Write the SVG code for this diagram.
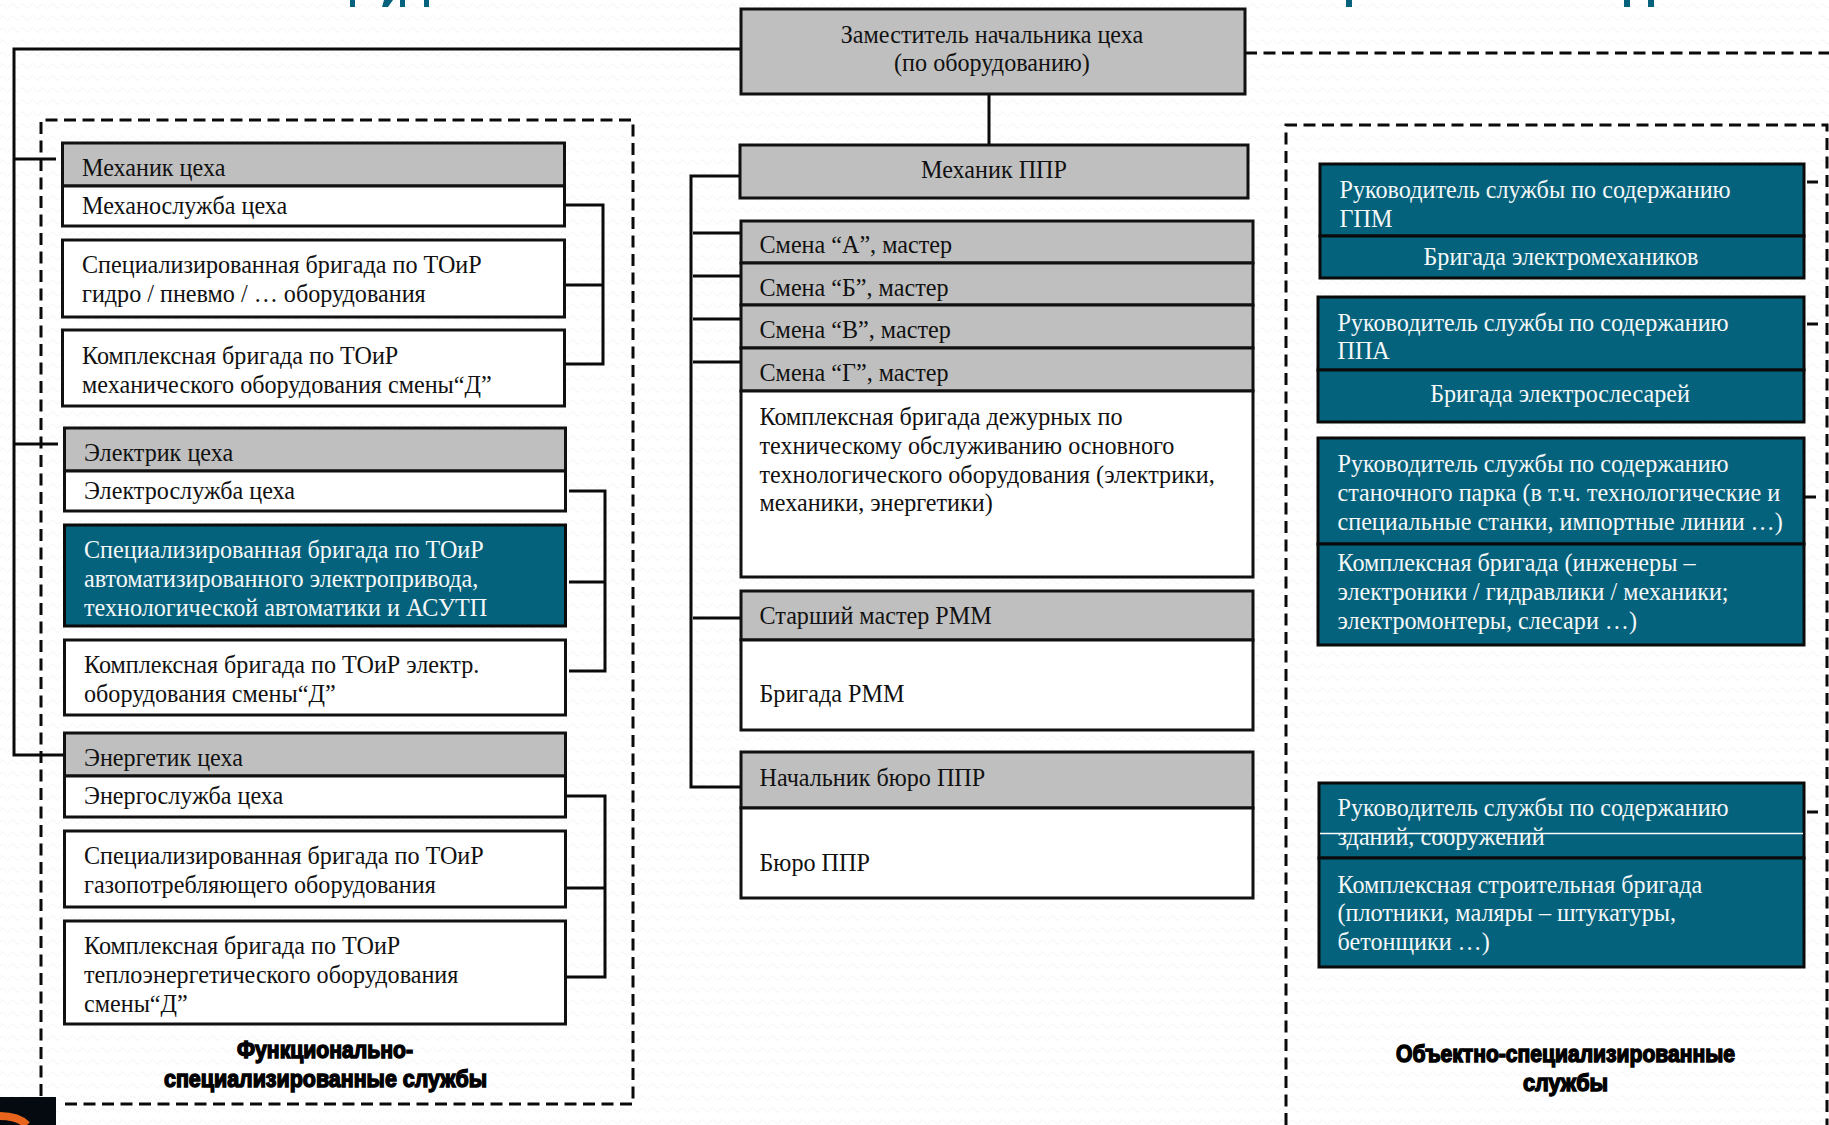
<svg xmlns="http://www.w3.org/2000/svg" width="1829" height="1125" viewBox="0 0 1829 1125">
<defs>
<pattern id="wave" width="10" height="12" patternUnits="userSpaceOnUse"><path d="M0 6 L2.5 3.5 L5 6 L7.5 8.5 L10 6" fill="none" stroke="#f1f3f4" stroke-width="1"/></pattern>
</defs>
<style>
.g{fill:#bfbfbf;stroke:#111;stroke-width:3}
.w{fill:#fff;stroke:#111;stroke-width:3}
.t{fill:#05627c;stroke:#0a0a0a;stroke-width:3}
.c{fill:none;stroke:#0a0a0a;stroke-width:3}
.d{fill:none;stroke:#0a0a0a;stroke-width:3;stroke-dasharray:12 6.5}
text{font-family:"Liberation Serif","Times New Roman",serif;font-size:24.15px;fill:#111;transform:translateY(.6px)}
.l{fill:#f4f8f9}
.m{text-anchor:middle}
.b{font-family:"Liberation Sans Narrow","Liberation Sans",sans-serif;font-weight:700;fill:#000;stroke:#000;stroke-width:1.5}
</style>
<rect width="1829" height="1125" fill="#fff"/>
<rect width="1829" height="1125" fill="url(#wave)"/>
<g id="title-fragments" fill="#05627c">
<rect x="350" y="0" width="5" height="7"/><path d="M384 0h9l-5 7h-6z"/><rect x="400" y="0" width="5" height="7"/><rect x="424" y="0" width="5" height="7"/>
<rect x="1346" y="0" width="6" height="7"/><rect x="1624" y="0" width="6" height="7"/><rect x="1648" y="0" width="6" height="7"/>
</g>
<g id="connectors">
<path class="c" d="M741 49H14V755H64M14 159H56M14 444H58"/>
<path class="c" d="M989 94V144"/>
<path class="c" d="M739 176H691V787H740M693 233H740M693 276H740M693 319H740M693 362H740M693 618H740"/>
<path class="c" d="M566 205H603V364H566M566 285H603"/>
<path class="c" d="M569 491H605V671H569M569 582H605"/>
<path class="c" d="M566 796H605V977H566M566 888H605"/>
<path class="d" d="M1245 53H1829"/>
<path class="c" d="M1807 182H1818M1807 324H1818M1805 497H1816M1807 812H1818"/>
<path class="d" d="M65 1104H633V120H41V1097"/>
<path class="d" d="M1286 1125V125H1827V1125"/>
</g>
<g id="zam"><rect class="g" x="741" y="9" width="504" height="85"/><text class="m" x="992" y="42">Заместитель начальника цеха</text><text class="m" x="992" y="70">(по оборудованию)</text></g>

<g id="mech-head"><rect class="g" x="62.500" y="143" width="502" height="43"/><text x="82" y="175">Механик цеха</text></g>
<g id="mech-service"><rect class="w" x="62.500" y="186" width="502" height="40"/><text x="82" y="213">Механослужба цеха</text></g>
<g id="mech-spec"><rect class="w" x="62.500" y="240" width="502" height="77"/><text x="82" y="272">Специализированная бригада по ТОиР</text><text x="82" y="301">гидро / пневмо / … оборудования</text></g>
<g id="mech-complex"><rect class="w" x="62.500" y="330" width="502" height="76"/><text x="82" y="363">Комплексная бригада по ТОиР</text><text x="82" y="392">механического оборудования смены“Д”</text></g>

<g id="el-head"><rect class="g" x="64.500" y="428" width="501" height="43"/><text x="84" y="460">Электрик цеха</text></g>
<g id="el-service"><rect class="w" x="64.500" y="471" width="501" height="40"/><text x="84" y="498">Электрослужба цеха</text></g>
<g id="el-spec"><rect class="t" x="64.500" y="525" width="501" height="101"/><text class="l" x="84" y="557">Специализированная бригада по ТОиР</text><text class="l" x="84" y="586">автоматизированного электропривода,</text><text class="l" x="84" y="615">технологической автоматики и АСУТП</text></g>
<g id="el-complex"><rect class="w" x="64.500" y="640" width="501" height="75"/><text x="84" y="672">Комплексная бригада по ТОиР электр.</text><text x="84" y="701">оборудования смены“Д”</text></g>

<g id="en-head"><rect class="g" x="64.500" y="733" width="501" height="43"/><text x="84" y="765">Энергетик цеха</text></g>
<g id="en-service"><rect class="w" x="64.500" y="776" width="501" height="41"/><text x="84" y="803">Энергослужба цеха</text></g>
<g id="en-spec"><rect class="w" x="64.500" y="831" width="501" height="76"/><text x="84" y="863">Специализированная бригада по ТОиР</text><text x="84" y="892">газопотребляющего оборудования</text></g>
<g id="en-complex"><rect class="w" x="64.500" y="921" width="501" height="103"/><text x="84" y="953">Комплексная бригада по ТОиР</text><text x="84" y="982">теплоэнергетического оборудования</text><text x="84" y="1011">смены“Д”</text></g>

<g id="mech-ppr"><rect class="g" x="740" y="145" width="508" height="53"/><text class="m" x="994" y="177">Механик ППР</text></g>
<g id="shift-a"><rect class="g" x="741" y="221" width="512" height="42"/><text x="759.500" y="252">Смена “А”, мастер</text></g>
<g id="shift-b"><rect class="g" x="741" y="263" width="512" height="42"/><text x="759.500" y="295">Смена “Б”, мастер</text></g>
<g id="shift-v"><rect class="g" x="741" y="305" width="512" height="43"/><text x="759.500" y="337">Смена “В”, мастер</text></g>
<g id="shift-g"><rect class="g" x="741" y="348" width="512" height="43"/><text x="759.500" y="380">Смена “Г”, мастер</text></g>
<g id="duty"><rect class="w" x="741" y="391" width="512" height="186"/><text x="759.500" y="424">Комплексная бригада дежурных по</text><text x="759.500" y="453">техническому обслуживанию основного</text><text x="759.500" y="482">технологического оборудования (электрики,</text><text x="759.500" y="510">механики, энергетики)</text></g>
<g id="rmm-head"><rect class="g" x="741" y="591" width="512" height="49"/><text x="759.500" y="623">Старший мастер РММ</text></g>
<g id="rmm"><rect class="w" x="741" y="640" width="512" height="90"/><text x="759.500" y="701">Бригада РММ</text></g>
<g id="bureau-head"><rect class="g" x="741" y="752" width="512" height="56"/><text x="759.500" y="785">Начальник бюро ППР</text></g>
<g id="bureau"><rect class="w" x="741" y="808" width="512" height="90"/><text x="759.500" y="870">Бюро ППР</text></g>

<g id="gpm-head"><rect class="t" x="1320" y="164" width="484" height="72"/><text class="l" x="1339.500" y="197">Руководитель службы по содержанию</text><text class="l" x="1339.500" y="226">ГПМ</text></g>
<g id="gpm-team"><rect class="t" x="1320" y="236" width="484" height="42"/><text class="l m" x="1561" y="264">Бригада электромехаников</text></g>
<g id="ppa-head"><rect class="t" x="1318" y="297" width="486" height="73"/><text class="l" x="1337.500" y="330">Руководитель службы по содержанию</text><text class="l" x="1337.500" y="358">ППА</text></g>
<g id="ppa-team"><rect class="t" x="1318" y="370" width="486" height="52"/><text class="l m" x="1560" y="401">Бригада электрослесарей</text></g>
<g id="st-head"><rect class="t" x="1318" y="438" width="486" height="106"/><text class="l" x="1337.500" y="471">Руководитель службы по содержанию</text><text class="l" x="1337.500" y="500">станочного парка (в т.ч. технологические и</text><text class="l" x="1337.500" y="529">специальные станки, импортные линии …)</text></g>
<g id="st-team"><rect class="t" x="1318" y="544" width="486" height="101"/><text class="l" x="1337.500" y="570">Комплексная бригада (инженеры –</text><text class="l" x="1337.500" y="599">электроники / гидравлики / механики;</text><text class="l" x="1337.500" y="628">электромонтеры, слесари …)</text></g>
<g id="bld-head"><rect class="t" x="1319" y="783" width="485" height="75"/><text class="l" x="1337.500" y="815">Руководитель службы по содержанию</text><text class="l" x="1337.500" y="844">зданий, сооружений</text><path d="M1320 833.500H1803" stroke="#fff" stroke-width="1.500"/></g>
<g id="bld-team"><rect class="t" x="1319" y="858" width="485" height="109"/><text class="l" x="1337.500" y="892">Комплексная строительная бригада</text><text class="l" x="1337.500" y="920">(плотники, маляры – штукатуры,</text><text class="l" x="1337.500" y="949">бетонщики …)</text></g>

<g id="caption-left"><text class="b" x="237" y="1057" textLength="176" lengthAdjust="spacingAndGlyphs">Функционально-</text><text class="b" x="164" y="1086" textLength="323" lengthAdjust="spacingAndGlyphs">специализированные службы</text></g>
<g id="caption-right"><text class="b" x="1396" y="1061" textLength="339" lengthAdjust="spacingAndGlyphs">Объектно-специализированные</text><text class="b" x="1523" y="1090" textLength="85" lengthAdjust="spacingAndGlyphs">службы</text></g>
<g id="corner"><rect x="0" y="1097" width="56" height="28" fill="#050a10"/><path d="M0 1116C12 1116 22 1120 27 1125" fill="none" stroke="#e8631c" stroke-width="8"/></g>
</svg>
